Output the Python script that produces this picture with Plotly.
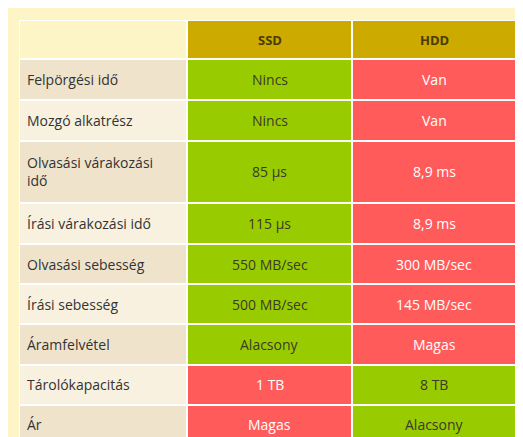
import plotly.graph_objects as go

features = ["Felpörgési idő", "Mozgó alkatrész", "Olvasási várakozási<br>idő",
            "Írási várakozási idő", "Olvasási sebesség", "Írási sebesség",
            "Áramfelvétel", "Tárolókapacitás", "Ár"]
ssd = ["Nincs", "Nincs", "85 µs", "115 µs", "550 MB/sec", "500 MB/sec",
       "Alacsony", "1 TB", "Magas"]
hdd = ["Van", "Van", "8,9 ms", "8,9 ms", "300 MB/sec", "145 MB/sec",
       "Magas", "8 TB", "Alacsony"]
ssd_better = [True, True, True, True, True, True, True, False, False]
headers = ["", "SSD", "HDD"]

col_widths = [168, 164, 165]
row_heights = [39, 41, 40, 62, 41, 40, 40, 40, 40, 40]  # header first

BG = "#fdf5c5"
colors = [BG, "#ccaa00", "#efe4cb", "#f8f1df", "#99cc00", "#ff5b5b"]

# cell edges (y grows downward via reversed axis)
x_edges = [0]
for w in col_widths:
    x_edges.append(x_edges[-1] + w)
y_edges = [0]
for h in row_heights:
    y_edges.append(y_edges[-1] + h)

z = [[0, 1, 1]]
for i, b in enumerate(ssd_better):
    z.append([2 if i % 2 == 0 else 3, 4 if b else 5, 5 if b else 4])

n = len(colors)
scale = []
for k, c in enumerate(colors):
    scale += [[k / n, c], [(k + 1) / n, c]]

fig = go.Figure(go.Heatmap(
    z=z, x=x_edges, y=y_edges, colorscale=scale, zmin=-0.5, zmax=n - 0.5,
    showscale=False, xgap=2, ygap=2, hoverinfo="skip",
))

def ymid(r):
    return (y_edges[r] + y_edges[r + 1]) / 2

font = dict(family="Open Sans", size=14)
for c in (1, 2):
    fig.add_annotation(x=(x_edges[c] + x_edges[c + 1]) / 2, y=ymid(0),
                       text="<b>" + headers[c] + "</b>", showarrow=False,
                       font=dict(font, color="#4a3c00", size=13))
for i in range(len(features)):
    r = i + 1
    fig.add_annotation(x=x_edges[0] + 6, y=ymid(r), text=features[i],
                       xanchor="left", align="left", showarrow=False,
                       font=dict(font, color="#333333"))
    fig.add_annotation(x=(x_edges[1] + x_edges[2]) / 2, y=ymid(r), text=ssd[i],
                       showarrow=False,
                       font=dict(font, color="#3a3a2a" if ssd_better[i] else "white"))
    fig.add_annotation(x=(x_edges[2] + x_edges[3]) / 2, y=ymid(r), text=hdd[i],
                       showarrow=False,
                       font=dict(font, color="white" if ssd_better[i] else "#3a3a2a"))

fig.update_xaxes(visible=False, range=[0, x_edges[-1]])
fig.update_yaxes(visible=False, range=[y_edges[-1], 0])
fig.update_layout(width=523, height=437, paper_bgcolor=BG, plot_bgcolor="white",
                  margin=dict(l=11, r=14, t=12, b=0))
fig.write_html("out.html")
